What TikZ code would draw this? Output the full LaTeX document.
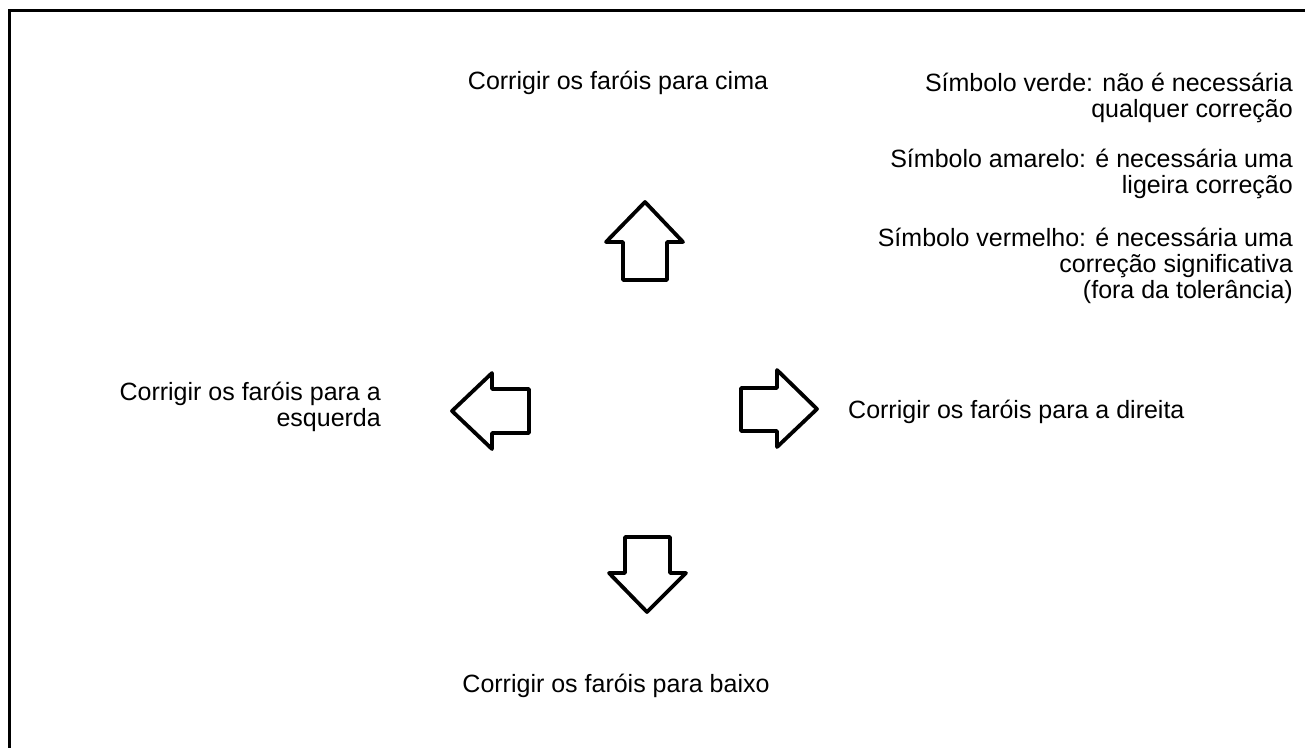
\documentclass[tikz,border=0pt]{standalone}
\usepackage{fontspec}
\setmainfont{Liberation Sans}
\usetikzlibrary{positioning}

\begin{document}
\begin{tikzpicture}[
  x=1pt, y=-1pt,
  label/.style={inner sep=0pt, font=\fontsize{25}{26}\selectfont},
  hollow/.style={draw=black, line width=3.8pt, line join=round},
  frame/.style={draw=black, line width=3pt}
]
  \useasboundingbox (0,0) rectangle (1305,747);
  % frame (only top and left edges are visible)
  \draw[frame] (9,760) -- (9,10.5) -- (1320,10.5);

  % hollow arrows
  \draw[hollow] (645,202) -- (683,242) -- (667,242) -- (667,280)
                -- (623,280) -- (623,242) -- (606,242) -- cycle;
  \draw[hollow] (647,612) -- (686,573) -- (670,573) -- (670,537)
                -- (625,537) -- (625,573) -- (609,573) -- cycle;
  \draw[hollow] (452,411) -- (492,373) -- (492,389) -- (529,389)
                -- (529,433) -- (492,433) -- (492,449) -- cycle;
  \draw[hollow] (817,409) -- (777,370) -- (777,388) -- (741,388)
                -- (741,431) -- (777,431) -- (777,447) -- cycle;

  % directions
  \node[label, anchor=base] (lblup) at (618,89) {Corrigir os faróis para cima};
  \node[label, anchor=base] (lbldown) at (616,692) {Corrigir os faróis para baixo};
  \node[label, anchor=base west] (lblright) at (848,418) {Corrigir os faróis para a direita};
  \node[label, anchor=north east, align=right] (lblleft) at (381,382)
    {Corrigir os faróis para a\\esquerda};

  % symbol key
  \node[label, anchor=north east, align=right] (keygreen) at (1293,73)
    {Símbolo verde: não é necessária\\qualquer correção};
  \node[label, anchor=north east, align=right] (keyyellow) at (1293,149)
    {Símbolo amarelo: é necessária uma\\ligeira correção};
  \node[label, anchor=north east, align=right] (keyred) at (1293,228)
    {Símbolo vermelho: é necessária uma\\correção significativa\\(fora da tolerância)};
\end{tikzpicture}
\end{document}
